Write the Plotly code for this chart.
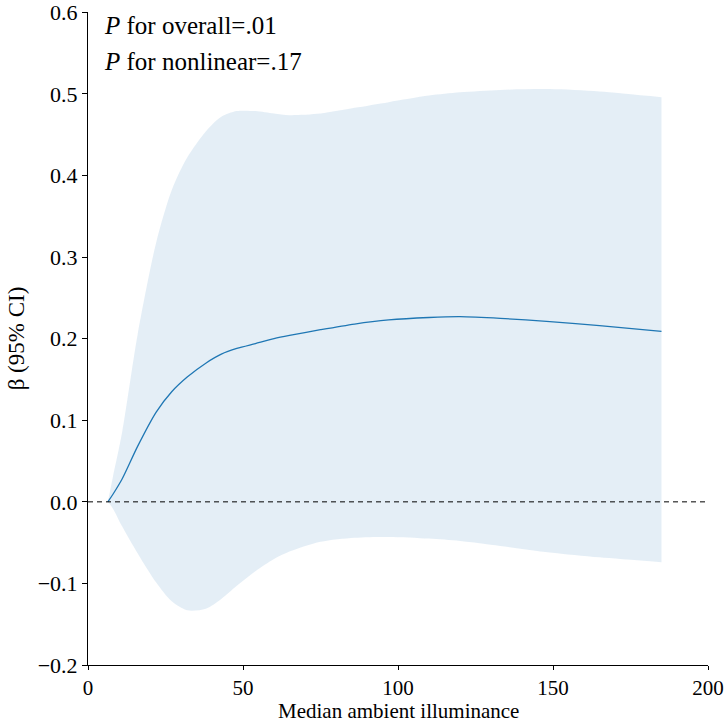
import plotly.graph_objects as go

x_vals = [6.4, 8, 11, 16, 22, 27, 32, 38, 43, 48, 54, 60, 65, 75, 86, 97, 110, 120, 133, 149, 165, 185]
beta = [0, 0.009, 0.028, 0.068, 0.11, 0.135, 0.153, 0.170, 0.181, 0.188, 0.194, 0.2, 0.204, 0.211, 0.218,
        0.223, 0.226, 0.227, 0.225, 0.221, 0.216, 0.209]
upper = [0, 0.03, 0.085, 0.205, 0.318, 0.382, 0.422, 0.454, 0.472, 0.479, 0.479, 0.476, 0.474, 0.476, 0.483,
         0.49, 0.498, 0.502, 0.505, 0.506, 0.503, 0.496]
lower = [0, -0.008, -0.03, -0.063, -0.099, -0.122, -0.133, -0.131, -0.119, -0.103, -0.085, -0.07, -0.061,
         -0.049, -0.044, -0.043, -0.045, -0.048, -0.054, -0.062, -0.068, -0.074]

x_ticks = [0, 50, 100, 150, 200]
y_ticks = [-0.2, -0.1, 0.0, 0.1, 0.2, 0.3, 0.4, 0.5, 0.6]
p_texts = ["<i>P</i> for overall=.01", "<i>P</i> for nonlinear=.17"]
x_title = "Median ambient illuminance"
y_title = "β (95% CI)"

font_family = "Liberation Serif, Times New Roman, serif"
y_tick_font = dict(family=font_family, size=22, color="black")
x_tick_font = dict(family=font_family, size=21, color="black")

fig = go.Figure()
fig.add_trace(go.Scatter(x=x_vals, y=upper, mode="lines", line=dict(width=0, shape="spline", smoothing=0.8),
                         hoverinfo="skip", showlegend=False))
fig.add_trace(go.Scatter(x=x_vals, y=lower, mode="lines", line=dict(width=0, shape="spline", smoothing=0.8),
                         fill="tonexty", fillcolor="rgba(31,119,180,0.12)", hoverinfo="skip", showlegend=False))
fig.add_hline(y=0, line=dict(color="black", width=1, dash="5px,4px"))
fig.add_trace(go.Scatter(x=x_vals, y=beta, mode="lines",
                         line=dict(color="#1f77b4", width=1.3, shape="spline", smoothing=0.8),
                         showlegend=False))

for txt, yp in zip(p_texts, [0.98, 0.924]):
    fig.add_annotation(xref="paper", yref="paper", x=0.0226, y=yp, xanchor="left", yanchor="middle",
                       text=txt, align="left", showarrow=False,
                       font=dict(family=font_family, size=25, color="black"))

fig.add_annotation(xref="paper", yref="paper", x=0.5, y=-0.0705, xanchor="center", yanchor="middle",
                   text=x_title, showarrow=False, borderpad=0,
                   font=dict(family=font_family, size=21, color="black"))

fig.update_layout(
    width=726, height=723,
    margin=dict(l=88, r=18, t=12, b=58),
    plot_bgcolor="white", paper_bgcolor="white",
    font=dict(family=font_family, size=22, color="black"),
    xaxis=dict(range=[0, 200], tickvals=x_ticks, showline=True, linecolor="black", linewidth=1,
               ticks="outside", ticklen=4, tickcolor="black", showgrid=False, zeroline=False,
               tickfont=x_tick_font, ticklabeloverflow="allow", automargin=False),
    yaxis=dict(range=[-0.2, 0.6005], tickvals=y_ticks, tickformat=".1f", showline=True, linecolor="black",
               linewidth=1, ticks="outside", ticklen=5, tickcolor="black", showgrid=False, zeroline=False,
               tickfont=y_tick_font, ticklabeloverflow="allow", automargin=False,
               title=dict(text=y_title, standoff=6,
                          font=dict(family=font_family, size=23, color="black"))),
)

fig.write_html("out.html")
